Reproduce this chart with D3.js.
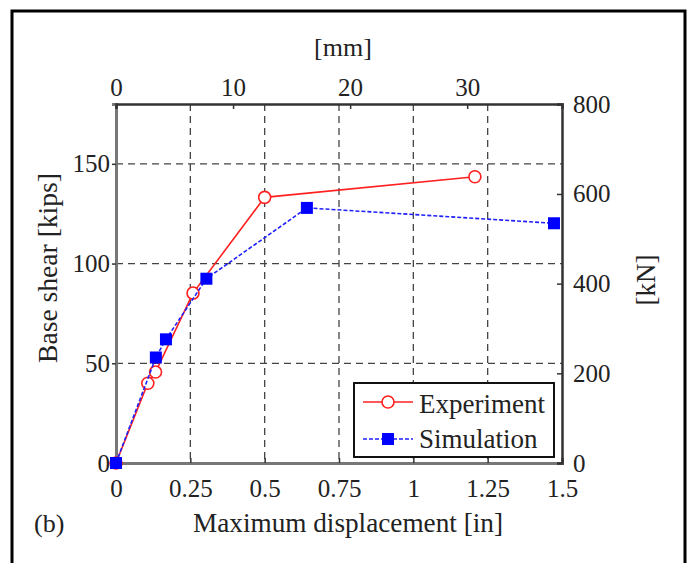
<!DOCTYPE html>
<html>
<head>
<meta charset="utf-8">
<script src="https://cdn.jsdelivr.net/npm/d3@7"></script>
<style>
  body { margin: 0; background: #fff; }
  svg text { font-family: "Liberation Serif", "Times New Roman", serif; fill: #222; }
</style>
</head>
<body>
<svg id="chart" width="691" height="563"></svg>
<script>
// data (x in inches, y in kips)
const expX = [0, 0.107, 0.133, 0.259, 0.5, 1.207];
const expY = [0, 40, 45.6, 85.2, 133.2, 143.5];
const simX = [0, 0.134, 0.168, 0.304, 0.642, 1.473];
const simY = [0, 52.9, 62, 92.4, 127.9, 120.2];

const inTicks = [0, 0.25, 0.5, 0.75, 1, 1.25, 1.5];
const kipTicks = [0, 50, 100, 150];
const mmTicks = [0, 10, 20, 30];
const kNTicks = [0, 200, 400, 600, 800];
const seriesNames = ["Experiment", "Simulation"];

var svg = d3.select("#chart");

// outer frame
svg.append("rect")
  .attr("x", 12).attr("y", 11)
  .attr("width", 673).attr("height", 620)
  .attr("fill", "none").attr("stroke", "#000").attr("stroke-width", 3);

const pLeft = 116, pRight = 562, pTop = 104, pBottom = 463;

var x = d3.scaleLinear().domain([0, 1.5]).range([pLeft, pRight]);
var y = d3.scaleLinear().domain([0, 180]).range([pBottom, pTop]);
var xmm = d3.scaleLinear().domain([0, 1.5 * 25.4]).range([pLeft, pRight]);
var ykN = d3.scaleLinear().domain([0, 180 * 4.448]).range([pBottom, pTop]);

// grid
var grid = svg.append("g")
  .attr("stroke", "#444").attr("stroke-width", 1.3)
  .attr("stroke-dasharray", "7,5");
grid.selectAll("line.v")
  .data(inTicks.slice(1, -1))
  .enter().append("line")
  .attr("x1", d => x(d)).attr("x2", d => x(d))
  .attr("y1", pTop).attr("y2", pBottom);
grid.selectAll("line.h")
  .data(kipTicks.slice(1))
  .enter().append("line")
  .attr("y1", d => y(d)).attr("y2", d => y(d))
  .attr("x1", pLeft).attr("x2", pRight);

// axes
var xAxis = svg.append("g")
  .attr("transform", "translate(0," + pBottom + ")")
  .call(d3.axisBottom(x).tickValues(inTicks).tickSize(-5).tickPadding(16)
    .tickFormat(d => d3.format("")(d)));
var yAxis = svg.append("g")
  .attr("transform", "translate(" + pLeft + ",0)")
  .call(d3.axisLeft(y).tickValues(kipTicks).tickSize(4).tickPadding(2));
var topAxis = svg.append("g")
  .attr("transform", "translate(0," + pTop + ")")
  .call(d3.axisTop(xmm).tickValues(mmTicks).tickSize(-5).tickPadding(8));
var rightAxis = svg.append("g")
  .attr("transform", "translate(" + pRight + ",0)")
  .call(d3.axisRight(ykN).tickValues(kNTicks).tickSize(-5).tickPadding(11));

[xAxis, yAxis, topAxis, rightAxis].forEach(function (g) {
  g.selectAll("text").attr("font-size", 25)
    .attr("font-family", "Liberation Serif").attr("fill", "#222");
  g.selectAll(".tick line").attr("stroke", "#333").attr("stroke-width", 1.5);
});
xAxis.select(".domain").attr("stroke", "#777").attr("stroke-width", 3);
yAxis.select(".domain").attr("stroke", "#777").attr("stroke-width", 3);
topAxis.select(".domain").attr("stroke", "#333").attr("stroke-width", 2.5);
rightAxis.select(".domain").attr("stroke", "#333").attr("stroke-width", 2.5);

// axis titles
svg.append("text").attr("x", 348).attr("y", 532)
  .attr("text-anchor", "middle").attr("font-size", 27)
  .attr("textLength", 310).attr("lengthAdjust", "spacingAndGlyphs")
  .text("Maximum displacement [in]");
svg.append("text").attr("x", 343).attr("y", 56)
  .attr("text-anchor", "middle").attr("font-size", 26)
  .text("[mm]");
svg.append("text").attr("transform", "translate(57,268) rotate(-90)")
  .attr("text-anchor", "middle").attr("font-size", 27)
  .attr("textLength", 190).attr("lengthAdjust", "spacingAndGlyphs")
  .text("Base shear [kips]");
svg.append("text").attr("transform", "translate(655,280) rotate(-90)")
  .attr("text-anchor", "middle").attr("font-size", 27)
  .text("[kN]");
svg.append("text").attr("x", 34).attr("y", 532)
  .attr("font-size", 26).text("(b)");

// series
var expData = expX.map((d, i) => [d, expY[i]]);
var simData = simX.map((d, i) => [d, simY[i]]);
var line = d3.line().x(d => x(d[0])).y(d => y(d[1]));

svg.append("path").datum(expData)
  .attr("d", line).attr("fill", "none")
  .attr("stroke", "#ff2020").attr("stroke-width", 1.6);
svg.selectAll("circle.exp").data(expData)
  .enter().append("circle")
  .attr("cx", d => x(d[0])).attr("cy", d => y(d[1])).attr("r", 6)
  .attr("fill", "#fff").attr("stroke", "#ff2020").attr("stroke-width", 1.6);

svg.append("path").datum(simData)
  .attr("d", line).attr("fill", "none")
  .attr("stroke", "#2020ff").attr("stroke-width", 1.6)
  .attr("stroke-dasharray", "4,2");
svg.selectAll("rect.sim").data(simData)
  .enter().append("rect")
  .attr("x", d => x(d[0]) - 6).attr("y", d => y(d[1]) - 6)
  .attr("width", 12).attr("height", 12)
  .attr("fill", "#0000ff");

// legend
var leg = svg.append("g");
leg.append("rect").attr("x", 354).attr("y", 383)
  .attr("width", 200).attr("height", 74)
  .attr("fill", "#fff").attr("stroke", "#111").attr("stroke-width", 2);
leg.append("line").attr("x1", 363).attr("x2", 413).attr("y1", 402).attr("y2", 402)
  .attr("stroke", "#ff2020").attr("stroke-width", 1.6);
leg.append("circle").attr("cx", 388).attr("cy", 402).attr("r", 6)
  .attr("fill", "#fff").attr("stroke", "#ff2020").attr("stroke-width", 1.6);
leg.append("line").attr("x1", 363).attr("x2", 413).attr("y1", 439).attr("y2", 439)
  .attr("stroke", "#2020ff").attr("stroke-width", 1.6).attr("stroke-dasharray", "4,2");
leg.append("rect").attr("x", 382).attr("y", 433).attr("width", 12).attr("height", 12)
  .attr("fill", "#0000ff");
leg.selectAll("text").data(seriesNames)
  .enter().append("text")
  .attr("x", 419).attr("y", (d, i) => 413 + i * 35)
  .attr("font-size", 27).text(d => d);
</script>
</body>
</html>
